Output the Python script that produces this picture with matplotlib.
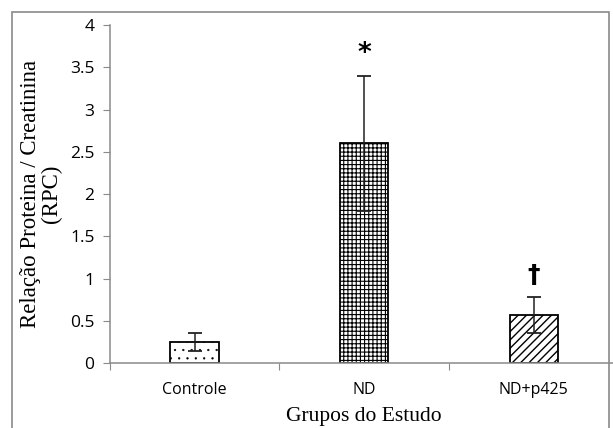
import matplotlib.pyplot as plt
from matplotlib.patches import Rectangle

grupos = ['Controle', 'ND', 'ND+p425']
rpc = [0.25, 2.6, 0.57]
erro = [0.11, 0.8, 0.21]
hachuras = ['..', '++++', '////']
simbolos = ['', '*', '†']
espessura_hachura = [0.4, 0.8, 1.0]

fig = plt.figure(figsize=(6.13, 4.28), dpi=100)
ax = fig.add_axes([0.179, 0.152, 0.83, 0.789])

# outer frame of the original figure
fig.patches.append(Rectangle((12 / 613, -0.05), 597 / 613, 1 - 12 / 428 + 0.05,
                             transform=fig.transFigure, fill=False,
                             edgecolor='#8a8a8a', linewidth=1.2))

x = range(1, len(grupos) + 1)
for i, g in enumerate(grupos):
    with plt.rc_context({'hatch.linewidth': espessura_hachura[i]}):
        barras = ax.bar(x[i], rpc[i], width=0.285, color='white', edgecolor='black',
                        hatch=hachuras[i], linewidth=1.3, zorder=2)
    for b in barras:
        if hasattr(b, 'set_hatch_linewidth'):
            b.set_hatch_linewidth(espessura_hachura[i])
ax.errorbar(x, rpc, yerr=erro, fmt='none', ecolor='#222222', elinewidth=1.1,
            capsize=5, capthick=1.3, zorder=3)

for i, s in enumerate(simbolos):
    if s == '*':
        ax.text(x[i], rpc[i] + erro[i] + 0.1, s, ha='center', va='bottom',
                fontsize=19, fontweight='bold', family='DejaVu Sans')
    elif s:
        ax.text(x[i], rpc[i] + erro[i] + 0.12, s, ha='center', va='bottom',
                fontsize=18, fontweight='bold', family='DejaVu Sans')

ax.set_xlim(0.5, 3.48)
ax.set_ylim(0, 4)
ax.set_yticks([0, 0.5, 1, 1.5, 2, 2.5, 3, 3.5, 4])
ax.set_yticklabels(['0', '0.5', '1', '1.5', '2', '2.5', '3', '3.5', '4'],
                   family='Open Sans', fontsize=12.5)
ax.set_xticks([0.5, 1.5, 2.5, 3.5])
ax.set_xticklabels([])
ax.set_xticks(list(x), minor=True)
ax.set_xticklabels(grupos, minor=True, family='Open Sans', fontsize=11.5)
ax.tick_params(axis='x', which='minor', length=0, pad=14)
ax.tick_params(axis='x', which='major', length=5, color='#8a8a8a')
ax.tick_params(axis='y', length=5, color='#8a8a8a', pad=6)

for s in ['top', 'right']:
    ax.spines[s].set_visible(False)
for s in ['left', 'bottom']:
    ax.spines[s].set_color('#8a8a8a')
    ax.spines[s].set_linewidth(1.1)

ax.set_xlabel('Grupos do Estudo', family='Liberation Serif', fontsize=15.5,
              labelpad=6)
ax.set_ylabel('Relação Proteina / Creatinina\n(RPC)', family='Liberation Serif',
              fontsize=16.5, labelpad=6, linespacing=0.95)

fig.savefig('out.png', dpi=100)
